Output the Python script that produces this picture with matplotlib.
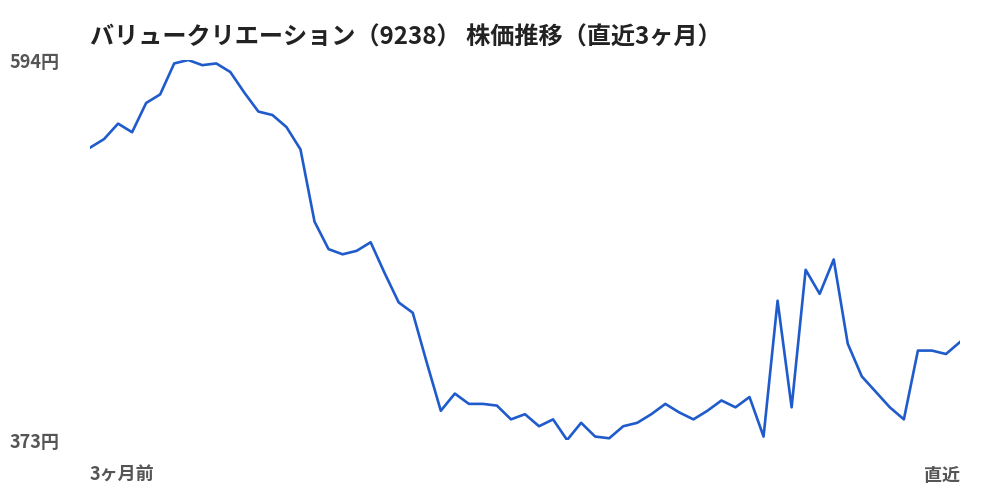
import matplotlib.pyplot as plt

plt.rcParams['font.family'] = ['Noto Sans CJK JP', 'DejaVu Sans']

title = 'バリュークリエーション（9238） 株価推移（直近3ヶ月）'
prices = [543, 548, 557, 552, 569, 574, 592, 594, 591, 592,
          587, 575, 564, 562, 555, 542, 500, 484, 481, 483,
          488, 470, 453, 447, 418, 390, 400, 394, 394, 393,
          385, 388, 381, 385, 373, 383, 375, 374, 381, 383,
          388, 394, 389, 385, 390, 396, 392, 398, 375, 454,
          392, 472, 458, 478, 429, 410, 401, 392, 385, 425,
          425, 423, 430]
y_min, y_max = 373, 594
x_labels = ['3ヶ月前', '直近']

fig = plt.figure(figsize=(10, 5), dpi=100)
ax = fig.add_axes([0.09, 0.12, 0.87, 0.76])
days = list(range(len(prices)))
ax.plot(days, prices, color='#1f5bcb', linewidth=1.9, solid_joinstyle='round')
ax.set_xlim(0, len(prices) - 1)
ax.set_ylim(y_min, y_max)
ax.axis('off')

fig.text(0.09, 0.925, title, fontsize=17.4, fontweight='bold', color='#222222',
         ha='left', va='center')
grey = '#555555'
fig.text(0.01, 0.874, f'{y_max}円', fontsize=13, fontweight='bold', color=grey,
         ha='left', va='center')
fig.text(0.01, 0.116, f'{y_min}円', fontsize=13, fontweight='bold', color=grey,
         ha='left', va='center')
fig.text(0.09, 0.049, x_labels[0], fontsize=13, fontweight='bold', color=grey,
         ha='left', va='center')
fig.text(0.96, 0.049, x_labels[1], fontsize=13, fontweight='bold', color=grey,
         ha='right', va='center')

fig.savefig('out.png', dpi=100)
